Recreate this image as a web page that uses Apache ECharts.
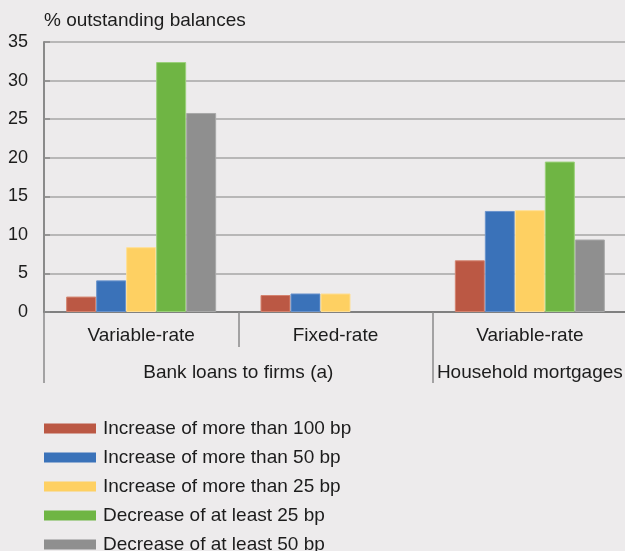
<!DOCTYPE html>
<html>
<head>
<meta charset="utf-8">
<style>
  html, body { margin: 0; padding: 0; background: #edebec; }
  #chart { width: 625px; height: 551px; }
</style>
<script src="https://cdn.jsdelivr.net/npm/echarts@6/dist/echarts.min.js"></script>
</head>
<body>
<div id="chart"></div>
<script>
// data
const categories = ["Variable-rate", "Fixed-rate", "Variable-rate"];
const groupLabels = ["", "", "Bank loans to firms (a)", "", "", "Household mortgages", ""];
const seriesNames = [
  "Increase of more than 100 bp",
  "Increase of more than 50 bp",
  "Increase of more than 25 bp",
  "Decrease of at least 25 bp",
  "Decrease of at least 50 bp",
];
const inc100 = [2.0, 2.2, 6.7];
const inc50 = [4.1, 2.4, 13.1];
const inc25 = [8.4, 2.4, 13.2];
const dec25 = [32.4, null, 19.5];
const dec50 = [25.8, null, 9.4];

const colors = ["#bb5844", "#3a72b9", "#fed062", "#6fb544", "#8f8f8f"];
const borders = ["#d4836f", "#6993cc", "#ffdf94", "#9bd07a", "#a9a9a9"];
const values = [inc100, inc50, inc25, dec25, dec50];

const font = "'Liberation Sans', Arial, Helvetica, sans-serif";
const textColor = "#1c1c1c";

const chart = echarts.init(document.getElementById("chart"));

const option = {
  backgroundColor: "#edebec",
  animation: false,
  textStyle: { fontFamily: font, color: textColor },
  title: {
    text: "% outstanding balances",
    left: 44,
    top: 11,
    padding: 0,
    textStyle: { fontFamily: font, fontSize: 19, fontWeight: "normal", color: textColor },
  },
  legend: {
    orient: "vertical",
    left: 44,
    top: 419,
    height: 200,
    padding: 0,
    icon: "rect",
    itemWidth: 52,
    itemHeight: 10,
    itemGap: 10,
    itemStyle: { borderWidth: 0 },
    textStyle: { fontFamily: font, fontSize: 19, color: textColor, padding: [0, 0, 0, 2] },
    data: seriesNames,
  },
  grid: { left: 44, right: -2, top: 42, bottom: 239, containLabel: false, outerBoundsMode: "none" },
  xAxis: [
    {
      type: "category",
      data: categories,
      axisLine: { lineStyle: { color: "#808080", width: 2 } },
      axisTick: { show: true, length: 35, lineStyle: { color: "#8a8a8a", width: 1.5 } },
      axisLabel: { fontFamily: font, fontSize: 19, color: textColor, margin: 14, interval: 0 },
      splitLine: { show: false },
    },
    {
      type: "category",
      position: "bottom",
      offset: 35,
      boundaryGap: false,
      data: groupLabels,
      axisLine: { show: false },
      axisTick: {
        show: true,
        length: 36,
        interval: function (idx) { return idx === 0 || idx === 4; },
        lineStyle: { color: "#8a8a8a", width: 1.5 },
      },
      axisLabel: { fontFamily: font, fontSize: 19, color: textColor, margin: 16, interval: 0 },
    },
  ],
  yAxis: {
    type: "value",
    min: 0,
    max: 35,
    interval: 5,
    axisLine: { show: true, lineStyle: { color: "#8a8a8a", width: 2 } },
    axisTick: { show: true, inside: true, length: 6, lineStyle: { color: "#8a8a8a", width: 1.5 } },
    axisLabel: { fontFamily: font, fontSize: 18, color: textColor, margin: 16 },
    splitLine: { lineStyle: { color: "#a6a6a6", width: 1.5 } },
  },
  series: seriesNames.map(function (name, i) {
    return {
      name: name,
      type: "bar",
      xAxisIndex: 0,
      barWidth: 30,
      barGap: "0%",
      itemStyle: { color: colors[i], borderColor: borders[i], borderWidth: 1 },
      data: values[i],
    };
  }),
};

chart.setOption(option);
</script>
</body>
</html>
